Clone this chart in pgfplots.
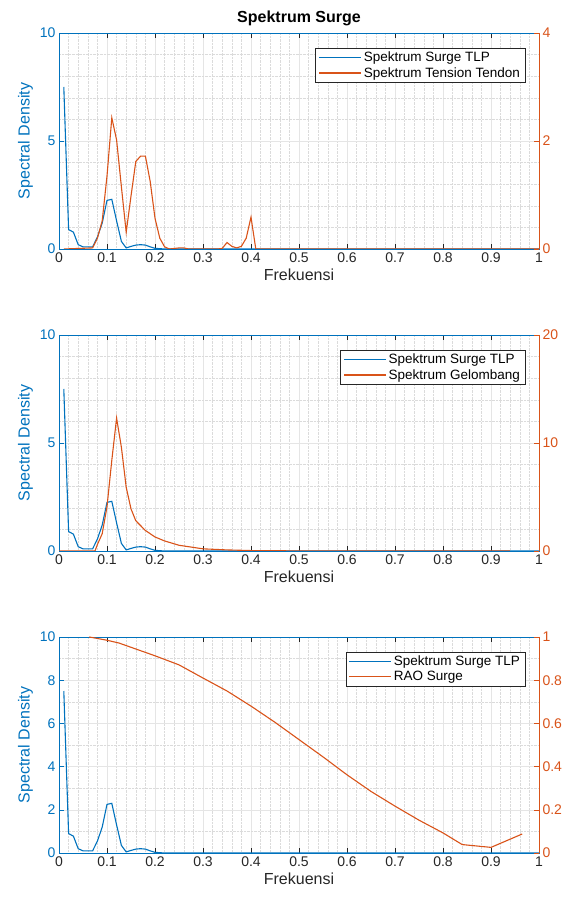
\documentclass[border=0pt]{standalone}
\usepackage{fontspec}
\setmainfont{Liberation Sans}
\usepackage{pgfplots}
\usepackage{pgfplotstable}
\pgfplotsset{compat=1.18}
\pgfplotsset{legend image code/.code={\draw[#1] (5pt,0pt) -- (47pt,0pt);}}

\definecolor{mblue}{HTML}{0072BD}
\definecolor{morange}{HTML}{D95319}
\definecolor{axgray}{HTML}{262626}

% Spektrum Surge TLP (left axis)
\pgfplotstableread{
f s
0.01 7.5
0.02 0.9
0.03 0.78
0.04 0.2
0.05 0.1
0.06 0.1
0.07 0.1
0.08 0.55
0.09 1.2
0.10 2.25
0.11 2.3
0.12 1.3
0.13 0.35
0.14 0.05
0.15 0.12
0.16 0.18
0.17 0.2
0.18 0.18
0.19 0.1
0.20 0.03
0.22 0
1.00 0
}\surge

% Spektrum Tension Tendon (right axis)
\pgfplotstableread{
f s
0.01 0
0.07 0.02e6
0.08 0.2e6
0.09 0.52e6
0.10 1.35e6
0.11 2.43e6
0.12 2.02e6
0.13 1.15e6
0.14 0.31e6
0.15 0.98e6
0.16 1.62e6
0.17 1.72e6
0.18 1.72e6
0.19 1.25e6
0.20 0.57e6
0.21 0.2e6
0.22 0.04e6
0.23 0
0.25 0.02e6
0.26 0.02e6
0.27 0
0.33 0
0.34 0.01e6
0.35 0.12e6
0.36 0.05e6
0.37 0.02e6
0.38 0.05e6
0.39 0.2e6
0.40 0.59e6
0.41 0
1.00 0
}\tension

% Spektrum Gelombang (right axis)
\pgfplotstableread{
f s
0.00 0
0.075 0
0.08 0.6
0.09 1.6
0.10 4.1
0.11 8.4
0.12 12.3
0.13 9.6
0.14 5.9
0.15 3.9
0.16 2.8
0.18 1.9
0.20 1.3
0.22 0.93
0.25 0.53
0.30 0.2
0.35 0.1
0.40 0.04
0.50 0.01
0.60 0
0.94 0
}\wave

% RAO Surge (right axis)
\pgfplotstableread{
f r
0.063 1.0
0.10 0.985
0.125 0.972
0.20 0.913
0.25 0.871
0.30 0.81
0.35 0.75
0.40 0.68
0.45 0.605
0.50 0.525
0.55 0.445
0.60 0.362
0.65 0.285
0.70 0.217
0.75 0.152
0.80 0.093
0.84 0.039
0.90 0.026
0.965 0.088
}\rao

\pgfplotsset{
  leftpanel/.style={scale only axis, width=480pt, height=216pt, anchor=south west,
    xmin=0, xmax=1, ymin=0, ymax=10,
    xtick={0,0.1,0.2,0.3,0.4,0.5,0.6,0.7,0.8,0.9,1},
    xticklabels={0,0.1,0.2,0.3,0.4,0.5,0.6,0.7,0.8,0.9,1},
    grid=both, minor x tick num=4,
    major grid style={draw=gray!20}, minor grid style={draw=gray!28, densely dotted},
    tick align=inside, major tick length=5pt, minor tick length=0pt,
    ytick pos=left,
    tick label style={font=\fontsize{14}{16}\selectfont},
    xticklabel style={text=axgray}, yticklabel style={text=mblue},
    x axis line style={draw=axgray}, y axis line style={draw=mblue},
    xtick style={draw=axgray}, ytick style={draw=mblue},
    xlabel={Frekuensi}, ylabel={Spectral Density},
    label style={font=\fontsize{16}{18}\selectfont},
    xlabel style={text=axgray}, ylabel style={text=mblue},
    /pgf/number format/assume math mode=true},
  rightpanel/.style={scale only axis, width=480pt, height=216pt, anchor=south west,
    xmin=0, xmax=1, axis y line*=right, axis x line=none,
    tick align=inside, major tick length=5pt, minor tick length=0pt,
    tick label style={font=\fontsize{14}{16}\selectfont},
    yticklabel style={text=morange}, y axis line style={draw=morange},
    ytick style={draw=morange}, scaled y ticks=false,
    /pgf/number format/assume math mode=true,
    legend cell align=left,
    legend style={at={(0.971,0.931)}, anchor=north east, draw=axgray, fill=white,
      font=\fontsize{13.5}{16}\selectfont, inner xsep=3pt, inner ysep=2pt,
      row sep=0pt, /tikz/every even column/.append style={column sep=1pt}}},
}

\begin{document}
\begin{tikzpicture}
\path[use as bounding box] (0,0) rectangle (584pt,900pt);
\node[font=\bfseries\fontsize{16}{18}\selectfont, text=black] at (299pt,882pt) {Spektrum Surge};

% ---- top panel
\begin{axis}[leftpanel, at={(59pt,651pt)}, ytick={0,5,10}, minor y tick num=4]
  \addplot[draw=mblue, line width=1.1pt] table[x=f,y=s] {\surge};
\end{axis}
\begin{axis}[rightpanel, at={(59pt,651pt)}, ymin=0, ymax=4e6,
  ytick={0,2e6,4e6}, yticklabels={0,2,4}]
  \addlegendimage{draw=mblue, line width=1.1pt}
  \addlegendentry{Spektrum Surge TLP}
  \addplot[draw=morange, line width=1.1pt] table[x=f,y=s] {\tension};
  \addlegendentry{Spektrum Tension Tendon}
  \node[anchor=south west, text=morange, font=\fontsize{12}{14}\selectfont, inner sep=0pt]
    at ([xshift=3pt,yshift=9pt]rel axis cs:1,1) {×10\textsuperscript{6}};
\end{axis}

% ---- middle panel
\begin{axis}[leftpanel, at={(59pt,349pt)}, ytick={0,5,10}, minor y tick num=4]
  \addplot[draw=mblue, line width=1.1pt] table[x=f,y=s] {\surge};
\end{axis}
\begin{axis}[rightpanel, at={(59pt,349pt)}, ymin=0, ymax=20, ytick={0,10,20}]
  \addlegendimage{draw=mblue, line width=1.1pt}
  \addlegendentry{Spektrum Surge TLP}
  \addplot[draw=morange, line width=1.1pt] table[x=f,y=s] {\wave};
  \addlegendentry{Spektrum Gelombang}
\end{axis}

% ---- bottom panel
\begin{axis}[leftpanel, at={(59pt,47pt)}, ytick={0,2,4,6,8,10}, minor y tick num=1]
  \addplot[draw=mblue, line width=1.1pt] table[x=f,y=s] {\surge};
\end{axis}
\begin{axis}[rightpanel, at={(59pt,47pt)}, ymin=0, ymax=1,
  ytick={0,0.2,0.4,0.6,0.8,1}, yticklabels={0,0.2,0.4,0.6,0.8,1}]
  \addlegendimage{draw=mblue, line width=1.1pt}
  \addlegendentry{Spektrum Surge TLP}
  \addplot[draw=morange, line width=1.1pt] table[x=f,y=r] {\rao};
  \addlegendentry{RAO Surge}
\end{axis}
\end{tikzpicture}
\end{document}
